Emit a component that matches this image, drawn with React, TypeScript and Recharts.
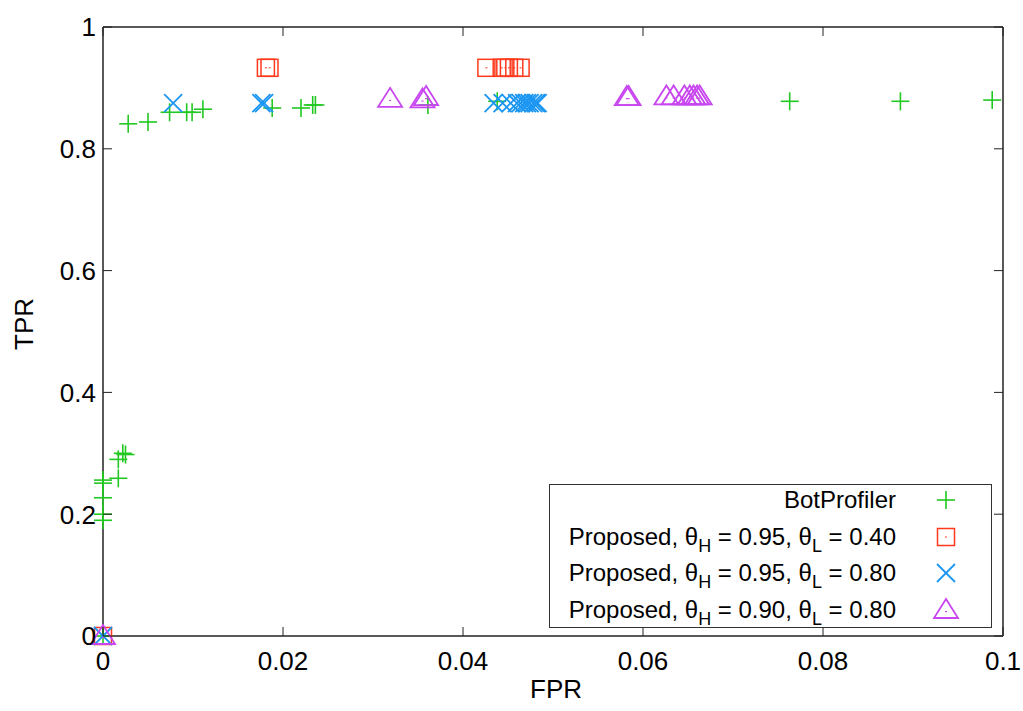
import React from 'react';
import { ScatterChart, Scatter, XAxis, YAxis } from 'recharts';

// FPR / TPR points
const botFpr = [0, 0, 0, 0, 0, 0, 0.0017, 0.0017, 0.0022, 0.0025, 0.0028, 0.005, 0.0074, 0.0093, 0.0099, 0.0111, 0.0188, 0.022, 0.0233, 0.0236, 0.0361, 0.0438, 0.0763, 0.0886, 0.0988];
const botTpr = [0, 0.19, 0.2, 0.227, 0.251, 0.256, 0.259, 0.29, 0.3, 0.298, 0.841, 0.844, 0.86, 0.86, 0.86, 0.865, 0.867, 0.867, 0.872, 0.872, 0.872, 0.878, 0.878, 0.878, 0.88];

const sq40Fpr = [0, 0.0181, 0.0185, 0.0426, 0.0443, 0.0447, 0.0451, 0.0457, 0.0464];
const sq40Tpr = [0, 0.933, 0.933, 0.933, 0.933, 0.933, 0.933, 0.933, 0.933];

const x80Fpr = [0, 0.0078, 0.0176, 0.0179, 0.0434, 0.0444, 0.0453, 0.046, 0.0464, 0.0468, 0.0471, 0.0474, 0.0478, 0.0481, 0.0483];
const x80Tpr = [0, 0.875, 0.875, 0.875, 0.875, 0.875, 0.875, 0.875, 0.875, 0.875, 0.875, 0.875, 0.875, 0.875, 0.875];

const tri90Fpr = [0, 0.0319, 0.0355, 0.0359, 0.0582, 0.0584, 0.0626, 0.0634, 0.0646, 0.0652, 0.0656, 0.066, 0.0663];
const tri90Tpr = [0, 0.882, 0.881, 0.885, 0.885, 0.885, 0.886, 0.886, 0.886, 0.886, 0.886, 0.886, 0.886];

const xTicks = [0, 0.02, 0.04, 0.06, 0.08, 0.1];
const yTicks = [0, 0.2, 0.4, 0.6, 0.8, 1];

const legendLabels = ['BotProfiler', 'Proposed', 'Proposed', 'Proposed'];
const thetaH = ['', '0.95', '0.95', '0.90'];
const thetaL = ['', '0.40', '0.80', '0.80'];

const GREEN = '#22c822';
const RED = '#ff3a1c';
const BLUE = '#1a96f2';
const MAGENTA = '#c846f0';
const FONT = '"Liberation Sans", Arial, sans-serif';

const zip = (xs: number[], ys: number[]) => xs.map((x, i) => ({ x, y: ys[i] }));

const Plus = ({ cx, cy }: any) => (
  <g stroke={GREEN} strokeWidth={1.6}>
    <line x1={cx - 9} y1={cy} x2={cx + 9} y2={cy} />
    <line x1={cx} y1={cy - 9} x2={cx} y2={cy + 9} />
  </g>
);

const Square = ({ cx, cy }: any) => (
  <g>
    <rect x={cx - 8.5} y={cy - 8.5} width={17} height={17} fill="none" stroke={RED} strokeWidth={1.5} />
    <rect x={cx - 1} y={cy - 0.5} width={2} height={1} fill={RED} />
  </g>
);

const Cross = ({ cx, cy }: any) => (
  <g stroke={BLUE} strokeWidth={1.8}>
    <line x1={cx - 9} y1={cy - 9} x2={cx + 9} y2={cy + 9} />
    <line x1={cx - 9} y1={cy + 9} x2={cx + 9} y2={cy - 9} />
  </g>
);

const Triangle = ({ cx, cy }: any) => (
  <g>
    <polygon
      points={`${cx},${cy - 11} ${cx - 12},${cy + 8} ${cx + 12},${cy + 8}`}
      fill="none"
      stroke={MAGENTA}
      strokeWidth={1.8}
    />
    <rect x={cx - 1} y={cy + 1} width={2} height={1.2} fill={MAGENTA} />
  </g>
);

const Nothing = () => <g />;

const legendShapes = [Plus, Square, Cross, Triangle];

const fmt = (v: number) => String(v);

const LeftTick = ({ x, y, payload }: any) => (
  <g>
    <line x1={x} y1={y} x2={x + 9} y2={y} stroke="#222" strokeWidth={1} />
    <text x={x - 7} y={y} dy="0.36em" textAnchor="end" fontSize={26} fill="#000" fontFamily={FONT}>
      {fmt(payload.value)}
    </text>
  </g>
);

const RightTick = ({ x, y }: any) => (
  <line x1={x} y1={y} x2={x - 9} y2={y} stroke="#222" strokeWidth={1} />
);

const BottomTick = ({ x, y, payload }: any) => (
  <g>
    <line x1={x} y1={y} x2={x} y2={y - 9} stroke="#222" strokeWidth={1} />
    <text x={x} y={y + 25} dy="0.36em" textAnchor="middle" fontSize={26} fill="#000" fontFamily={FONT}>
      {fmt(payload.value)}
    </text>
  </g>
);

const TopTick = ({ x, y }: any) => (
  <line x1={x} y1={y} x2={x} y2={y + 9} stroke="#222" strokeWidth={1} />
);

export default function App() {
  const bot = zip(botFpr, botTpr);
  const sq40 = zip(sq40Fpr, sq40Tpr);
  const x80 = zip(x80Fpr, x80Tpr);
  const tri90 = zip(tri90Fpr, tri90Tpr);
  const axisStroke = { stroke: '#222', strokeWidth: 1.5 };
  const subStyle = { fontSize: 18, verticalAlign: -7, lineHeight: 0 };

  return (
    <div style={{ position: 'absolute', left: 0, top: 0, width: 1023, height: 711, background: '#fff', fontFamily: FONT }}>
      <ScatterChart width={1023} height={711} margin={{ top: 26, right: 19, bottom: 35, left: 43 }}>
        <XAxis
          type="number"
          dataKey="x"
          domain={[0, 0.1]}
          ticks={xTicks}
          interval={0}
          height={40}
          tickSize={0}
          tickMargin={0}
          tickLine={false}
          axisLine={axisStroke}
          tick={<BottomTick />}
        />
        <XAxis
          xAxisId="top"
          orientation="top"
          type="number"
          dataKey="x"
          domain={[0, 0.1]}
          ticks={xTicks}
          interval={0}
          height={1}
          tickSize={0}
          tickMargin={0}
          tickLine={false}
          axisLine={axisStroke}
          tick={<TopTick />}
        />
        <YAxis
          type="number"
          dataKey="y"
          domain={[0, 1]}
          ticks={yTicks}
          interval={0}
          width={60}
          tickSize={0}
          tickMargin={0}
          tickLine={false}
          axisLine={axisStroke}
          tick={<LeftTick />}
        />
        <YAxis
          yAxisId="right"
          orientation="right"
          type="number"
          dataKey="y"
          domain={[0, 1]}
          ticks={yTicks}
          interval={0}
          width={1}
          tickSize={0}
          tickMargin={0}
          tickLine={false}
          axisLine={axisStroke}
          tick={<RightTick />}
        />
        <Scatter xAxisId="top" yAxisId="right" data={bot} shape={<Nothing />} isAnimationActive={false} />
        <Scatter data={bot} shape={<Plus />} isAnimationActive={false} />
        <Scatter data={sq40} shape={<Square />} isAnimationActive={false} />
        <Scatter data={x80} shape={<Cross />} isAnimationActive={false} />
        <Scatter data={tri90} shape={<Triangle />} isAnimationActive={false} />
      </ScatterChart>

      <div
        style={{
          position: 'absolute',
          left: 4,
          top: 330,
          width: 40,
          textAlign: 'center',
          fontSize: 26,
          lineHeight: '30px',
          transform: 'translateY(-50%) rotate(-90deg)',
        }}
      >
        TPR
      </div>
      <div style={{ position: 'absolute', left: 506, top: 674, width: 100, textAlign: 'center', fontSize: 26 }}>FPR</div>

      <div
        style={{
          position: 'absolute',
          left: 549,
          top: 484,
          width: 441,
          height: 142,
          border: '1px solid #333',
          background: '#fff',
        }}
      >
        {legendLabels.map((label, i) => {
          const Shape = legendShapes[i];
          return (
            <div key={i} style={{ position: 'absolute', left: 0, top: 1 + i * 36.7, width: 441, height: 30 }}>
              <div
                style={{
                  position: 'absolute',
                  right: 95,
                  top: 0,
                  fontSize: 24,
                  lineHeight: '28px',
                  whiteSpace: 'nowrap',
                  color: '#000',
                }}
              >
                {i === 0 ? (
                  label
                ) : (
                  <>
                    {label}, θ<sub style={subStyle}>H</sub> = {thetaH[i]}, θ<sub style={subStyle}>L</sub> = {thetaL[i]}
                  </>
                )}
              </div>
              <svg style={{ position: 'absolute', left: 381, top: -1, overflow: 'visible' }} width={30} height={30}>
                <Shape cx={15} cy={15} />
              </svg>
            </div>
          );
        })}
      </div>
    </div>
  );
}
